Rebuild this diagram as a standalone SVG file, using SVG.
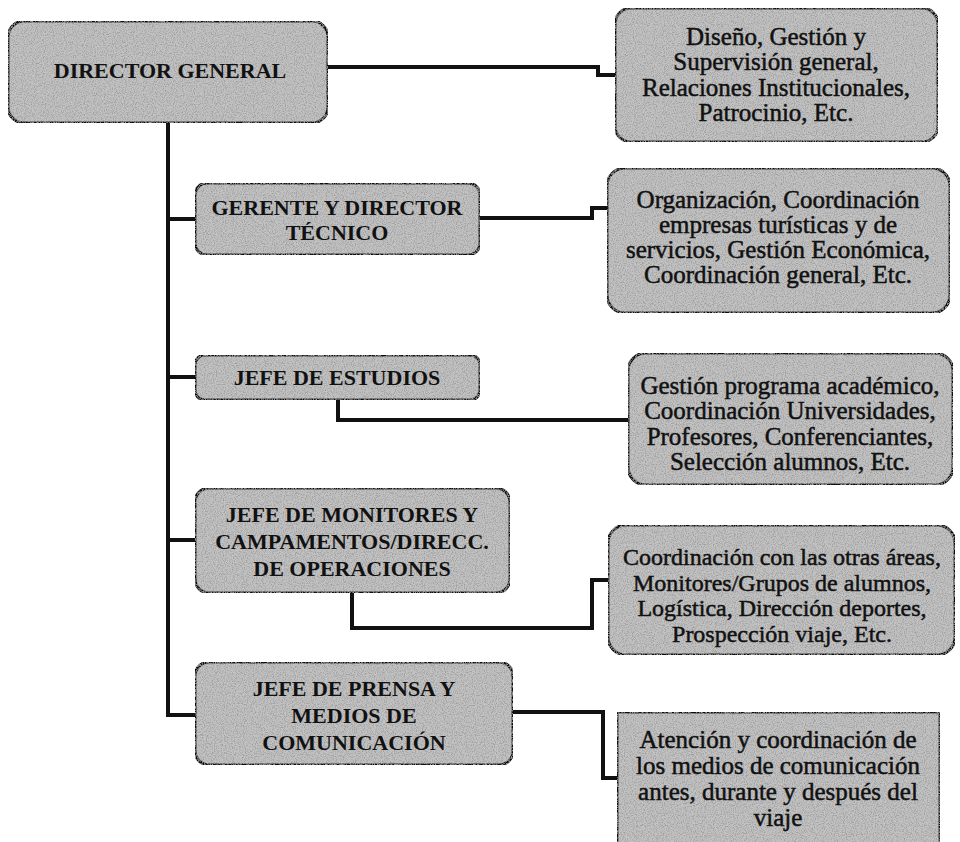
<svg xmlns="http://www.w3.org/2000/svg" width="960" height="842" viewBox="0 0 960 842">
<defs>
<filter id="grain" x="0" y="0" width="1" height="1">
<feTurbulence type="fractalNoise" baseFrequency="0.9" numOctaves="2" seed="3" result="n"/>
<feColorMatrix in="n" type="matrix" values="0 0 0 0 0.35  0 0 0 0 0.35  0 0 0 0 0.35  3 0 0 0 -1.25" result="g"/>
<feComposite in="g" in2="SourceGraphic" operator="in" result="gi"/>
<feMerge><feMergeNode in="SourceGraphic"/><feMergeNode in="gi"/></feMerge>
</filter>
</defs>
<style>
.box{fill:#c2c2c2;stroke:#111;stroke-width:3;filter:url(#grain)}
.con{fill:none;stroke:#111;stroke-width:4;stroke-linejoin:miter}
text{font-family:"Liberation Serif","Times New Roman",serif;fill:#111;text-anchor:middle;dominant-baseline:central}
.h{font-size:22px;font-weight:bold}
.d{font-size:25px;stroke:#111;stroke-width:0.5}
.s{font-size:24px}
</style>
<rect width="960" height="842" fill="#ffffff"/>
<g id="connectors">
<path class="con" d="M168 123 V715 H197"/>
<path class="con" d="M168 219 H197"/>
<path class="con" d="M168 377 H197"/>
<path class="con" d="M168 540 H197"/>
<path class="con" d="M328 67 H598 V75 H616"/>
<path class="con" d="M480 218 H592 V208 H608"/>
<path class="con" d="M338 400 V420 H628"/>
<path class="con" d="M352 593 V628 H592 V580 H610"/>
<path class="con" d="M513 712 H603 V778 H618"/>
</g>
<g id="director-general">
<rect class="box" x="8" y="21" width="320" height="102" rx="16"/>
<text class="h" x="170" y="70">DIRECTOR GENERAL</text>
</g>
<g id="diseno">
<rect class="box" x="615" y="8" width="323" height="134" rx="16"/>
<text class="d" x="776" y="36">Diseño, Gestión y</text>
<text class="d" x="776" y="61.5">Supervisión general,</text>
<text class="d" x="776" y="87">Relaciones Institucionales,</text>
<text class="d" x="776" y="112.5">Patrocinio, Etc.</text>
</g>
<g id="gerente">
<rect class="box" x="195" y="183" width="285" height="72" rx="12"/>
<text class="h" x="337" y="207">GERENTE Y DIRECTOR</text>
<text class="h" x="337" y="232">TÉCNICO</text>
</g>
<g id="organizacion">
<rect class="box" x="607" y="168" width="343" height="145" rx="18"/>
<text class="d" x="778" y="199">Organización, Coordinación</text>
<text class="d" x="778" y="224">empresas turísticas y de</text>
<text class="d" x="778" y="249">servicios, Gestión Económica,</text>
<text class="d" x="778" y="274">Coordinación general, Etc.</text>
</g>
<g id="jefe-estudios">
<rect class="box" x="195" y="355" width="285" height="45" rx="10"/>
<text class="h" x="337" y="377">JEFE DE ESTUDIOS</text>
</g>
<g id="gestion">
<rect class="box" x="628" y="353" width="325" height="132" rx="18"/>
<text class="d" x="790" y="385">Gestión programa académico,</text>
<text class="d" x="790" y="410">Coordinación Universidades,</text>
<text class="d" x="790" y="436">Profesores, Conferenciantes,</text>
<text class="d" x="790" y="461">Selección alumnos, Etc.</text>
</g>
<g id="jefe-monitores">
<rect class="box" x="195" y="488" width="315" height="105" rx="14"/>
<text class="h" x="352" y="514">JEFE DE MONITORES Y</text>
<text class="h" x="352" y="541">CAMPAMENTOS/DIRECC.</text>
<text class="h" x="352" y="568">DE OPERACIONES</text>
</g>
<g id="coordinacion">
<rect class="box" x="608" y="525" width="347" height="130" rx="18"/>
<text class="d s" x="782" y="557">Coordinación con las otras áreas,</text>
<text class="d s" x="782" y="583">Monitores/Grupos de alumnos,</text>
<text class="d s" x="782" y="608">Logística, Dirección deportes,</text>
<text class="d s" x="782" y="634">Prospección viaje, Etc.</text>
</g>
<g id="jefe-prensa">
<rect class="box" x="195" y="662" width="318" height="103" rx="14"/>
<text class="h" x="354" y="688">JEFE DE PRENSA Y</text>
<text class="h" x="354" y="715">MEDIOS DE</text>
<text class="h" x="354" y="742">COMUNICACIÓN</text>
</g>
<g id="atencion">
<rect class="box" x="617" y="712" width="323" height="140"/>
<text class="d" x="778" y="739">Atención y coordinación de</text>
<text class="d" x="778" y="765">los medios de comunicación</text>
<text class="d" x="778" y="791">antes, durante y después del</text>
<text class="d" x="778" y="817">viaje</text>
</g>
</svg>
